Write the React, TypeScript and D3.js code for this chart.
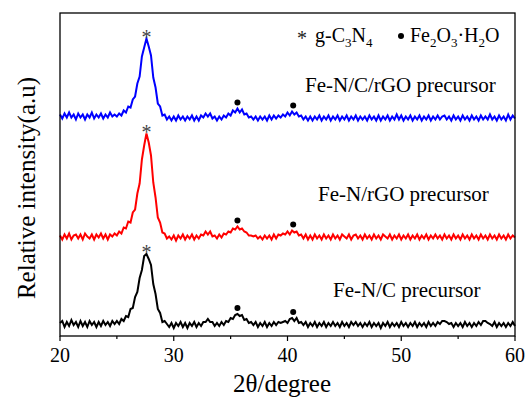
import React, { useEffect, useRef } from "react";
import * as d3 from "d3";

// scan grid (2theta, degrees)
const startAngle = 20;
const stepAngle = 0.2;

// intensities, relative to each trace's own baseline
const fenCrgo = [
  4, 0, 5, 1, 6, 1, 4, -1, 5, 1, 4, -1, 4, 1, 6, 0, 4, 1, 5, 0, 4, 1, 6, 2, 4,
  2, 5, 3, 8, 6,
  12, 11, 19, 22, 35,
  42, 62, 71, 80, 72,
  63, 41, 31, 15, 12,
  3, 4, -1, 2, -2,
  2, -2, 3, -1, 2,
  -2, 2, -1, 3, -2,
  2, -2, 3, 1, 5,
  2, 5, 0, 2, -2,
  2, -1, 3, 1, 5,
  3, 8, 6, 10, 6,
  9, 4, 5, 1, 2,
  -1, 2, -2, 2, -1,
  2, -2, 3, -1, 3,
  0, 3, 1, 4, 2,
  6, 3, 7, 4, 6,
  2, 3, -1, 2, -2,
  2, -2, 2, -1, 3,
  -2, 2, -1, 3, -2,
  2, -1, 3, -2, 2,
  -1, 3, -2, 2, -1,
  3, -2, 2, -1, 2,
  -2, 3, -1, 2, -2,
  3, -2, 2, -1, 3,
  -2, 2, -1, 4, -1,
  3, -2, 2, -1, 3,
  -2, 2, -1, 3, -2,
  2, -1, 3, -2, 2,
  -1, 3, -1, 2, 3,
  -1, 2, -2, 3, -1,
  2, -2, 3, -1, 2,
  -2, 3, -1, 2, -2,
  3, -1, 2, -1, 4,
  -1, 2, -2, 3, -1,
  2, -2, 4, -1, 3,
  0,
];

const fenRgo = [
  2, -2, 3, -1, 4, -2, 2, 3, -1, 3, -2, 4, 1, -1, 3, -2, 3, 0, 4, -1, 3, -2, 3, 1, 4,
  2, 6, 4, 10, 9,
  16, 15, 25, 28, 44,
  54, 78, 92, 104, 95,
  82, 55, 40, 20, 15,
  5, 4, -1, 1, -2,
  2, -3, 2, -1, 3,
  -2, 2, -1, 3, -2,
  2, -1, 3, 2, 6,
  3, 6, 1, 2, -1,
  3, 0, 4, 3, 6,
  5, 9, 8, 11, 8,
  9, 6, 5, 2, 2,
  1, 2, -1, 1, -2,
  2, -1, 2, -2, 3,
  -1, 3, 2, 4, 3,
  6, 3, 7, 5, 6,
  2, 3, -1, 3, -2,
  2, -2, 3, -1, 2,
  -2, 3, -1, 2, -2,
  3, -1, 2, -2, 3,
  1, -1, 3, -2, 2,
  3, -1, 2, -2, 3,
  -1, 2, -2, 3, -1,
  2, -2, 3, 1, -1,
  3, -2, 2, -1, 3,
  -2, 2, -1, 3, -2,
  2, -1, 3, -2, 2,
  -1, 3, -2, 2, -1,
  3, -1, 2, -2, 3,
  -1, 2, -2, 3, -1,
  2, -2, 3, -1, 2,
  -2, 3, -1, 2, -2,
  3, -1, 2, -2, 3,
  -1, 2, -2, 3, -1,
  2, -2, 3, -1, 2,
  0,
];

const fenC = [
  2, 4, -2, 3, -1, 5, 0, 3, -2, 4, -1, 3, -2, 4, 0, 3, -2, 3, -1, 4, 0, 3, -1, 4, 1,
  4, 1, 6, 4, 9,
  8, 16, 17, 28, 33,
  47, 55, 69, 71, 66,
  60, 41, 31, 16, 12,
  3, 4, 1, -2, 2,
  -3, 2, -1, 3, -2,
  2, -3, 2, -1, 3,
  -2, 2, -1, 3, 3,
  6, 3, 3, -1, 2,
  -1, 3, 0, 4, 3,
  7, 6, 10, 11, 9,
  10, 5, 6, 2, 3,
  0, 3, -2, 2, -1,
  3, -2, 2, -1, 3,
  0, 3, 2, 3, 4,
  2, 6, 7, 4, 7,
  2, 3, 0, 3, -2,
  2, -1, 3, -2, 2,
  -1, 3, -2, 2, -1,
  3, -1, 2, -2, 3,
  -1, 2, -2, 3, 0,
  3, -1, 2, -2, 2,
  -1, 3, -2, 2, -1,
  2, -3, 2, -1, 3,
  -2, 2, -1, 2, -2,
  3, -1, 2, -2, 2,
  -1, 3, -2, 2, -1,
  2, -2, 3, -1, 2,
  -1, 3, 1, 4, 4,
  3, 1, 2, -2, 2,
  -1, 2, -2, 3, -1,
  2, -2, 2, -1, 3,
  0, 4, 4, 2, 1,
  -1, 3, -2, 2, -1,
  2, -2, 2, -1, 3,
  -1,
];

const seriesNames = ["Fe-N/C/rGO precursor", "Fe-N/rGO precursor", "Fe-N/C precursor"];
const seriesValues = [fenCrgo, fenRgo, fenC];
const seriesOffsets = [217.5, 98.5, 11];
const seriesColors = ["#0000ff", "#ff0000", "#000000"];

// phase markers
const gcnPeaks = [27.6];
const ironPeaks = [35.6, 40.5];

const xTicks = [20, 30, 40, 50, 60];
const xMinorTicks = [25, 35, 45, 55];

const FONT = "'Liberation Serif', 'Times New Roman', serif";

export default function App() {
  const ref = useRef<SVGSVGElement>(null);

  useEffect(() => {
    document.body.style.margin = "0";
    drawChart();
  }, []);

  function drawChart() {
    const width = 528;
    const height = 401;
    const margin = { top: 13, right: 13, bottom: 65, left: 60 };
    const innerW = width - margin.left - margin.right;
    const innerH = height - margin.top - margin.bottom;

    const svg = d3.select(ref.current);
    svg.selectAll("*").remove();
    svg.append("rect").attr("width", width).attr("height", height).attr("fill", "#fff");

    const g = svg.append("g").attr("transform", `translate(${margin.left},${margin.top})`);

    const xScale = d3.scaleLinear().domain([20, 60]).range([0, innerW]);
    const yScale = d3.scaleLinear().domain([0, innerH]).range([innerH, 0]);

    const angle = (i: number) => startAngle + i * stepAngle;

    // traces
    seriesValues.forEach((vals, s) => {
      const line = d3
        .line<number>()
        .x((d, i) => xScale(angle(i)))
        .y((d) => yScale(d + seriesOffsets[s]));
      g.append("path")
        .datum(vals)
        .attr("fill", "none")
        .attr("stroke", seriesColors[s])
        .attr("stroke-width", 2)
        .attr("stroke-linejoin", "miter")
        .attr("d", line);
    });

    // local maximum of a trace near an angle
    const localMax = (vals: number[], at: number) => {
      const near = vals.filter((v, i) => Math.abs(angle(i) - at) <= 0.3);
      return d3.max(near) as number;
    };

    seriesValues.forEach((vals, s) => {
      gcnPeaks.forEach((p) => {
        const y = yScale(localMax(vals, p) + seriesOffsets[s]);
        g.append("text")
          .attr("x", xScale(p))
          .attr("y", y + 5)
          .attr("text-anchor", "middle")
          .attr("font-family", FONT)
          .attr("font-size", 20)
          .attr("fill", "#444")
          .text("*");
      });
      ironPeaks.forEach((p) => {
        const y = yScale(localMax(vals, p) + seriesOffsets[s]);
        g.append("circle").attr("cx", xScale(p)).attr("cy", y - 6).attr("r", 3).attr("fill", "#000");
      });
    });

    // trace labels
    const labelPos = [
      { x: 305, y: 92 },
      { x: 318, y: 201 },
      { x: 333, y: 297 },
    ];
    seriesNames.forEach((name, s) => {
      svg.append("text")
        .attr("x", labelPos[s].x)
        .attr("y", labelPos[s].y)
        .attr("font-family", FONT)
        .attr("font-size", 21)
        .attr("fill", "#000")
        .text(name);
    });

    // legend
    svg.append("text")
      .attr("x", 302)
      .attr("y", 45)
      .attr("text-anchor", "middle")
      .attr("font-family", FONT)
      .attr("font-size", 20)
      .attr("fill", "#222")
      .text("*");
    const leg1 = svg.append("text").attr("x", 315).attr("y", 41.5).attr("font-family", FONT).attr("font-size", 20);
    leg1.append("tspan").text("g-C");
    leg1.append("tspan").attr("font-size", 13).attr("dy", 5).text("3");
    leg1.append("tspan").attr("dy", -5).text("N");
    leg1.append("tspan").attr("font-size", 13).attr("dy", 5).text("4");

    svg.append("circle").attr("cx", 401).attr("cy", 36).attr("r", 3).attr("fill", "#000");
    const leg2 = svg.append("text").attr("x", 410).attr("y", 41.5).attr("font-family", FONT).attr("font-size", 20);
    leg2.append("tspan").text("Fe");
    leg2.append("tspan").attr("font-size", 13).attr("dy", 5).text("2");
    leg2.append("tspan").attr("dy", -5).text("O");
    leg2.append("tspan").attr("font-size", 13).attr("dy", 5).text("3");
    leg2.append("tspan").attr("dy", -5).text("\u00b7H");
    leg2.append("tspan").attr("font-size", 13).attr("dy", 5).text("2");
    leg2.append("tspan").attr("dy", -5).text("O");

    // frame
    g.append("rect")
      .attr("width", innerW)
      .attr("height", innerH)
      .attr("fill", "none")
      .attr("stroke", "#000")
      .attr("stroke-width", 1.3);

    // bottom ticks (outward)
    xTicks.forEach((t) => {
      g.append("line")
        .attr("x1", xScale(t)).attr("x2", xScale(t))
        .attr("y1", innerH).attr("y2", innerH + 5)
        .attr("stroke", "#000").attr("stroke-width", 1.2);
      g.append("text")
        .attr("x", xScale(t))
        .attr("y", innerH + 26)
        .attr("text-anchor", "middle")
        .attr("font-family", FONT)
        .attr("font-size", 20)
        .text(t);
    });
    xMinorTicks.forEach((t) => {
      g.append("line")
        .attr("x1", xScale(t)).attr("x2", xScale(t))
        .attr("y1", innerH).attr("y2", innerH + 3)
        .attr("stroke", "#000").attr("stroke-width", 1.2);
    });

    // axis titles
    svg.append("text")
      .attr("x", 282)
      .attr("y", 392)
      .attr("text-anchor", "middle")
      .attr("font-family", FONT)
      .attr("font-size", 25)
      .text("2\u03b8/degree");
    svg.append("text")
      .attr("transform", "translate(35,188) rotate(-90)")
      .attr("text-anchor", "middle")
      .attr("font-family", FONT)
      .attr("font-size", 25)
      .text("Relative intensity(a.u)");
  }

  return <svg ref={ref} width={528} height={401} style={{ display: "block" }} />;
}
